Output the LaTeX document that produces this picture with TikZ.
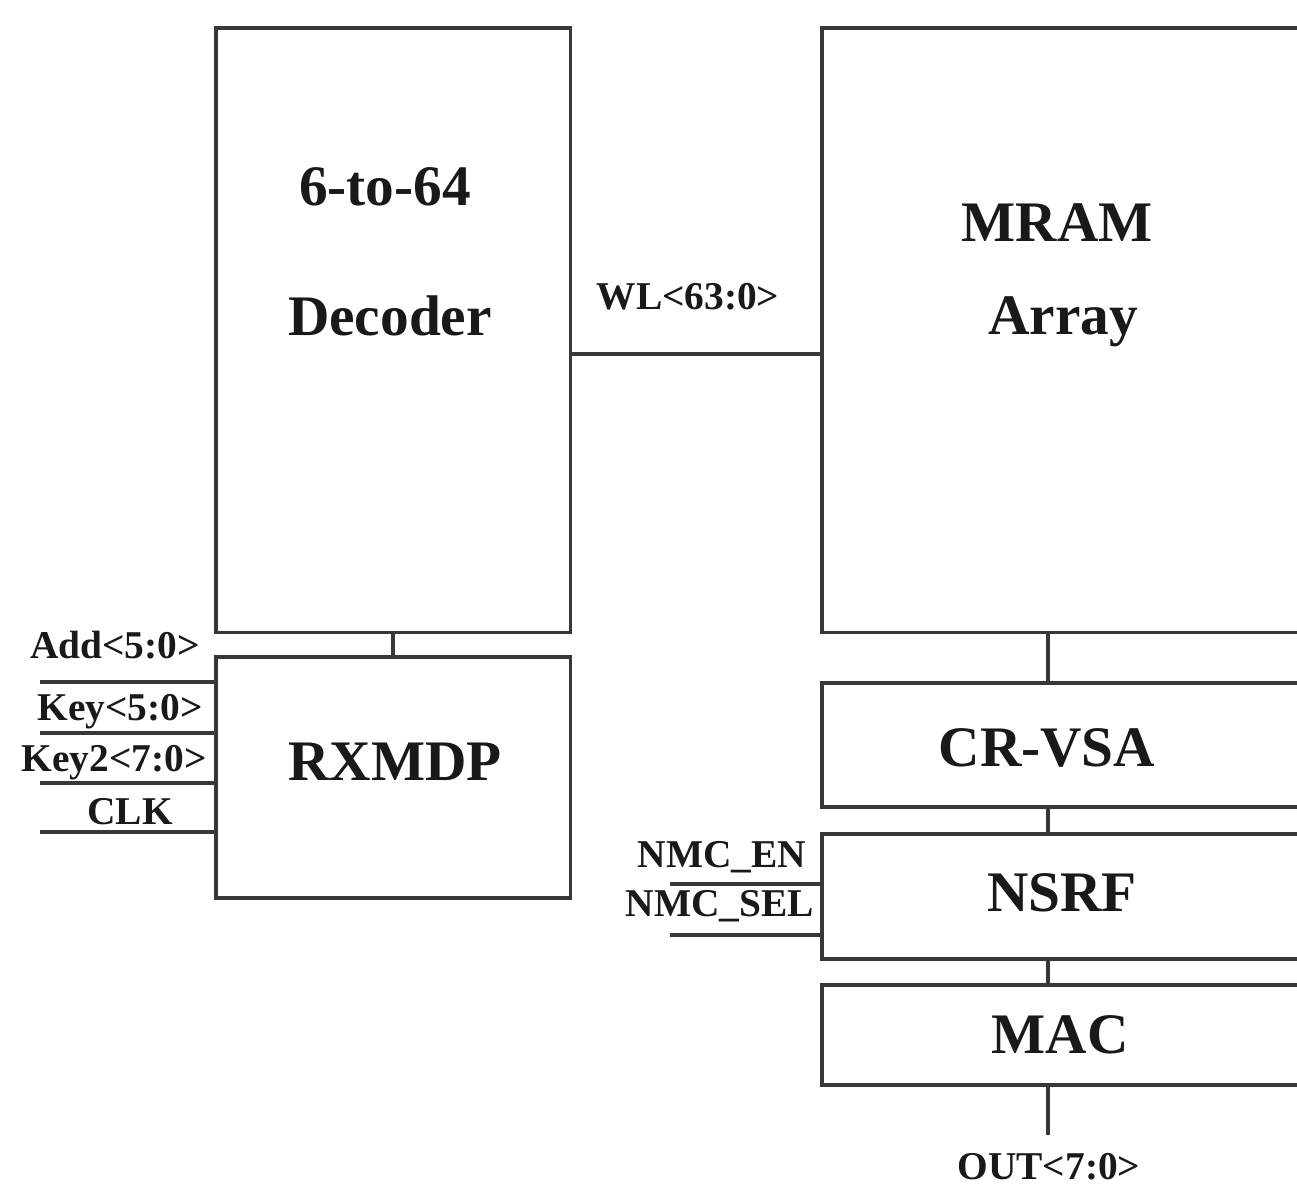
\documentclass[tikz,border=0pt]{standalone}
\usepackage{fontspec}
\setmainfont{Liberation Serif}
\begin{document}
\begin{tikzpicture}[x=0.01cm,y=-0.01cm,
  wire/.style={draw=black!78, line width=0.95pt},
  blk/.style={wire, rectangle, anchor=north west, inner sep=0pt, outer sep=0pt},
  big/.style={font=\bfseries\fontsize{16.3}{18}\selectfont, inner sep=0pt, text=black!90},
  sml/.style={font=\bfseries\fontsize{11.2}{13}\selectfont, inner sep=0pt, text=black!90}]
\useasboundingbox (0,0) rectangle (1297,1191);
\clip (0,0) rectangle (1297,1191);
% blocks
\node[blk, minimum width=3.54cm, minimum height=6.04cm] (dec) at (216,28) {};
\node[blk, minimum width=3.54cm, minimum height=2.41cm] (rx) at (216,657) {};
\node[blk, minimum width=5.2cm, minimum height=6.04cm] (mram) at (822,28) {};
\node[blk, minimum width=5.2cm, minimum height=1.24cm] (vsa) at (822,683) {};
\node[blk, minimum width=5.2cm, minimum height=1.25cm] (nsrf) at (822,834) {};
\node[blk, minimum width=5.2cm, minimum height=1.00cm] (mac) at (822,985) {};
% labels in blocks
\node[big] at (385,187) {6-to-64};
\node[big] at (390,316) {Decoder};
\node[big] at (1057,223) {MRAM};
\node[big] at (1063,322) {Array};
\node[big] at (395,762) {RXMDP};
\node[big] at (1047,748) {CR-VSA};
\node[big] at (1062,893) {NSRF};
\node[big] at (1060,1035) {MAC};
% column coordinate
\coordinate (cx) at (1048,0);
\coordinate (wl) at (570,354);
\coordinate (outend) at (1048,1135);
% connectors
\draw[wire] (dec.south) -- (rx.north);
\draw[wire] (wl) -- (wl -| mram.west);
\draw[wire] (mram.south -| cx) -- (vsa.north -| cx);
\draw[wire] (vsa.south -| cx) -- (nsrf.north -| cx);
\draw[wire] (nsrf.south -| cx) -- (mac.north -| cx);
\draw[wire] (mac.south -| cx) -- (outend);
% inputs of RXMDP
\coordinate (a1) at (40,682);
\coordinate (a2) at (40,733);
\coordinate (a3) at (40,783);
\coordinate (a4) at (40,832);
\draw[wire] (a1) -- (a1 -| rx.west);
\draw[wire] (a2) -- (a2 -| rx.west);
\draw[wire] (a3) -- (a3 -| rx.west);
\draw[wire] (a4) -- (a4 -| rx.west);
% inputs of NSRF
\coordinate (n1) at (670,884);
\coordinate (n2) at (670,935);
\draw[wire] (n1) -- (n1 -| nsrf.west);
\draw[wire] (n2) -- (n2 -| nsrf.west);
% small labels
\node[sml] at (115,645) {Add<5:0>};
\node[sml] at (120,712) {Key<5:0>};
\node[sml] at (114,763) {Key2<7:0>};
\node[sml] at (130,812) {CLK};
\node[sml] at (722,857) {NMC\_EN};
\node[sml] at (720,906) {NMC\_SEL};
\node[sml] at (688,297) {WL<63:0>};
\node[sml] at (1049,1167) {OUT<7:0>};
\end{tikzpicture}
\end{document}
